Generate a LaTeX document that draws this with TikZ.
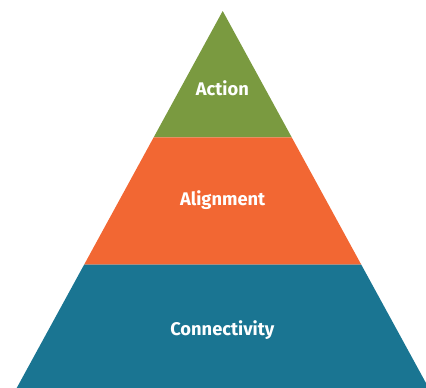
\documentclass[tikz,border=0pt]{standalone}
\usepackage{fontspec}
\setmainfont{Fira Sans}
\definecolor{pgreen}{HTML}{7A9A40}
\definecolor{porange}{HTML}{F26733}
\definecolor{pblue}{HTML}{1A7592}
\begin{document}
\begin{tikzpicture}[x=1pt,y=-1pt,
  lbl/.style={text=white,font=\bfseries\fontsize{18.3}{20}\selectfont,inner sep=0pt,anchor=base}]
\useasboundingbox (0,0) rectangle (426,388);
\clip (0,0) rectangle (426,388);
% apex (222.7,11), slope 0.5464 px per px
\coordinate (apex) at (222.7,11);
\coordinate (gl) at (153.7,137.3);
\coordinate (gr) at (291.7,137.3);
\coordinate (ol) at (84.1,264.7);
\coordinate (or) at (361.3,264.7);
\coordinate (bl) at (16.7,388);
\coordinate (br) at (428.7,388);
\fill[pgreen] (apex) -- (gr) -- (gl) -- cycle;
\fill[porange] (gl) -- (gr) -- (or) -- (ol) -- cycle;
\fill[pblue] (ol) -- (or) -- (br) -- (bl) -- cycle;
\node[lbl] (action) at (222.3,95) {Action};
\node[lbl] (alignment) at (222.7,205) {Alignment};
\node[lbl] (connectivity) at (222.3,335.7) {Connectivity};
\end{tikzpicture}
\end{document}
